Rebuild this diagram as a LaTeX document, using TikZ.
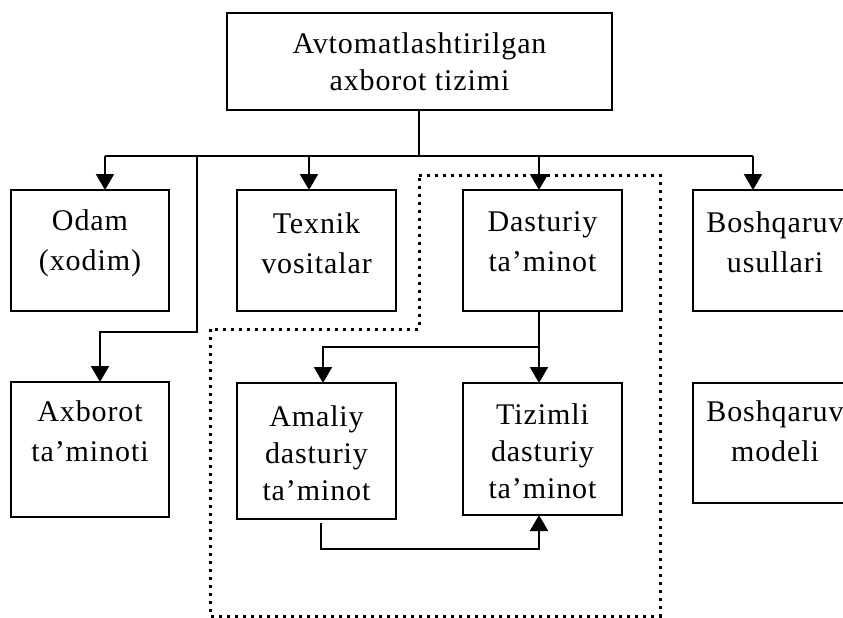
\documentclass[tikz,border=0pt]{standalone}
\usepackage{fontspec}
\setmainfont{Liberation Serif}[LetterSpace=3]
\usetikzlibrary{arrows.meta}
\begin{document}
\begin{tikzpicture}[x=1pt,y=-1pt,
  line width=2pt,
  box/.style={draw, rectangle, inner sep=0pt, outer sep=0pt},
  lbl/.style={inner sep=0pt, align=center, font=\fontsize{30}{40}\selectfont},
  lbltight/.style={lbl, font=\fontsize{30}{37}\selectfont},
  arr/.style={-{Triangle[width=18pt,length=16pt]}},
  zone/.style={line width=3pt, dash pattern=on 3pt off 5pt}]
  \useasboundingbox (0,0) rectangle (843,618);
  \clip (0,0) rectangle (843,618);

  % boxes
  \node[box, minimum width=385, minimum height=97]  (top)      at (419.5,61.5) {};
  \node[box, minimum width=158, minimum height=121] (odam)     at (90,250.5)   {};
  \node[box, minimum width=159, minimum height=121] (texnik)   at (316.5,250.5) {};
  \node[box, minimum width=159, minimum height=121] (dasturiy) at (542.5,250.5) {};
  \node[box, minimum width=159, minimum height=121] (boshu)    at (772.5,250.5) {};
  \node[box, minimum width=158, minimum height=135] (axborot)  at (90,449.5)   {};
  \node[box, minimum width=159, minimum height=136] (amaliy)   at (316.5,451)  {};
  \node[box, minimum width=159, minimum height=132] (tizimli)  at (542.5,449)  {};
  \node[box, minimum width=159, minimum height=120] (boshm)    at (772.5,443)  {};

  % texts
  \node[lbltight] (ttop)      at (419.5,62)  {Avtomatlashtirilgan\\axborot tizimi};
  \node[lbl]      (todam)     at (90,243.5)  {Odam\\(xodim)};
  \node[lbl]      (ttexnik)   at (316.5,243.5) {Texnik\\vositalar};
  \node[lbl]      (tdasturiy) at (542.5,242) {Dasturiy\\ta’minot};
  \node[lbl]      (tboshu)    at (775,242)   {Boshqaruv\\usullari};
  \node[lbl]      (taxborot)  at (90,431)    {Axborot\\ta’minoti};
  \node[lbltight] (tamaliy)   at (316.5,453) {Amaliy\\dasturiy\\ta’minot};
  \node[lbltight] (ttizimli)  at (542.5,451) {Tizimli\\dasturiy\\ta’minot};
  \node[lbl]      (tboshm)    at (775,431)   {Boshqaruv\\modeli};

  % junction points
  \coordinate (jtop) at (419,156);
  \coordinate (jodam) at (105,156);
  \coordinate (jside) at (197,156);
  \coordinate (jside2) at (197,332);
  \coordinate (jaxb) at (100,332);
  \coordinate (jtex) at (309,156);
  \coordinate (jdas) at (539,156);
  \coordinate (jbos) at (753,156);
  \coordinate (jsoft) at (539,347);
  \coordinate (jama) at (323,347);
  \coordinate (jlow1) at (321,523);
  \coordinate (jlow2) at (321,549);
  \coordinate (jlow3) at (539,549);

  % connectors
  \draw (top.south -| jtop) -- (jtop);
  \draw (jodam) -- (jbos);
  \draw[arr] (jodam) -- (jodam |- odam.north);
  \draw[arr] (jtex) -- (jtex |- texnik.north);
  \draw[arr] (jdas) -- (jdas |- dasturiy.north);
  \draw[arr] (jbos) -- (jbos |- boshu.north);
  \draw[arr] (jside) -- (jside2) -- (jaxb) -- (jaxb |- axborot.north);
  \draw (dasturiy.south -| jsoft) -- (jsoft);
  \draw[arr] (jsoft) -- (jsoft |- tizimli.north);
  \draw[arr] (jsoft) -- (jama) -- (jama |- amaliy.north);
  \draw[arr] (jlow1) -- (jlow2) -- (jlow3) -- (jlow3 |- tizimli.south);

  % software area outline
  \draw[zone] (419,175) -- (660,175) -- (660,616) -- (210,616)
              -- (210,329) -- (419,329) -- cycle;
\end{tikzpicture}
\end{document}
